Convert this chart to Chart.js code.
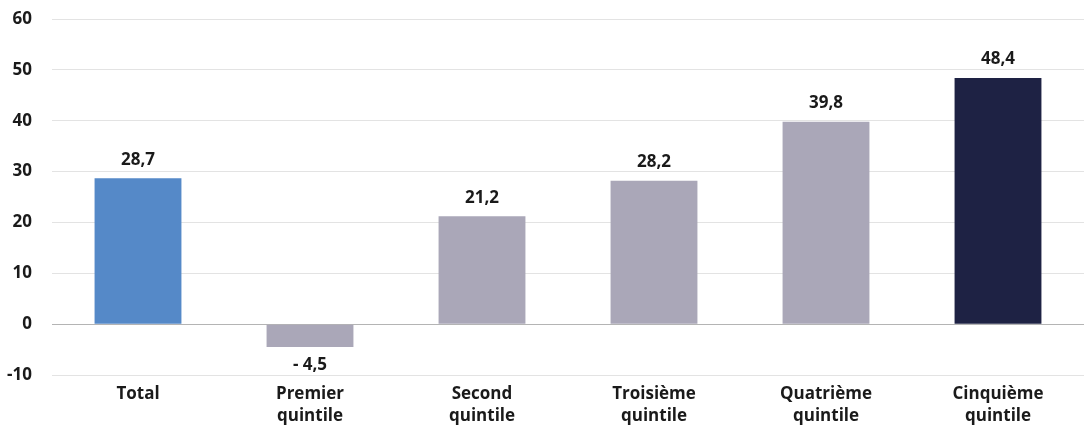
<!DOCTYPE html>
<html>
<head>
<meta charset="utf-8">
<script src="https://cdn.jsdelivr.net/npm/chart.js@4/dist/chart.umd.min.js"></script>
<style>
  html, body { margin: 0; padding: 0; background: #fff; }
  #wrap { width: 1084px; height: 428px; }
</style>
</head>
<body>
<div id="wrap"><canvas id="myChart"></canvas></div>
<script>
const categories = [["Total"], ["Premier", "quintile"], ["Second", "quintile"], ["Troisième", "quintile"], ["Quatrième", "quintile"], ["Cinquième", "quintile"]];
const valeurs = [28.7, -4.5, 21.2, 28.2, 39.8, 48.4];
const couleurs = ["#5589c8", "#aaa7b8", "#aaa7b8", "#aaa7b8", "#aaa7b8", "#1e2244"];
const yTicks = [-10, 0, 10, 20, 30, 40, 50, 60];

const police = "'Open Sans', sans-serif";

function formatVal(v) {
  const s = Math.abs(v).toFixed(1).replace(".", ",");
  return v < 0 ? "- " + s : s;
}

// étiquettes de valeur au-dessus (ou au-dessous) des barres
const etiquettes = {
  id: "etiquettes",
  afterDatasetsDraw(chart) {
    const ctx = chart.ctx;
    const meta = chart.getDatasetMeta(0);
    ctx.save();
    ctx.font = "700 17px " + police;
    ctx.fillStyle = "#1a1a1a";
    ctx.textAlign = "center";
    meta.data.forEach((bar, i) => {
      const v = valeurs[i];
      if (v >= 0) {
        ctx.textBaseline = "bottom";
        ctx.fillText(formatVal(v), bar.x, bar.y - 10);
      } else {
        ctx.textBaseline = "top";
        ctx.fillText(formatVal(v), bar.x, bar.y + 10);
      }
    });
    ctx.restore();
  }
};

const ctx = document.getElementById("myChart");

new Chart(ctx, {
  type: "bar",
  data: {
    labels: categories,
    datasets: [
      {
        data: valeurs,
        backgroundColor: couleurs,
        barPercentage: 0.505,
        categoryPercentage: 1,
      },
    ],
  },
  options: {
    responsive: true,
    maintainAspectRatio: false,
    animation: false,
    layout: { padding: { top: 19, right: 0, bottom: 0, left: 0 } },
    plugins: {
      legend: { display: false },
      tooltip: { enabled: false },
    },
    scales: {
      x: {
        grid: { display: false, drawTicks: false },
        border: { display: false },
        ticks: {
          color: "#1a1a1a",
          font: { family: police, size: 17, weight: "700", lineHeight: 1.3 },
          padding: 8,
          maxRotation: 0,
        },
        afterFit(scale) {
          scale.height = 53;
          scale.paddingLeft = 0;
          scale.paddingRight = 0;
        },
      },
      y: {
        min: -10,
        max: 60,
        afterBuildTicks(scale) {
          scale.ticks = yTicks.map((v) => ({ value: v }));
        },
        grid: {
          drawTicks: false,
          lineWidth: 1,
          color: (c) => (c.tick && c.tick.value === 0 ? "#b4b4b4" : "#e3e3e3"),
        },
        border: { display: false },
        ticks: {
          color: "#1a1a1a",
          font: { family: police, size: 17, weight: "700" },
          padding: 20,
        },
        afterFit(scale) {
          scale.width = 52;
          scale.paddingTop = 0;
          scale.paddingBottom = 0;
        },
      },
    },
  },
  plugins: [etiquettes],
});
</script>
</body>
</html>
